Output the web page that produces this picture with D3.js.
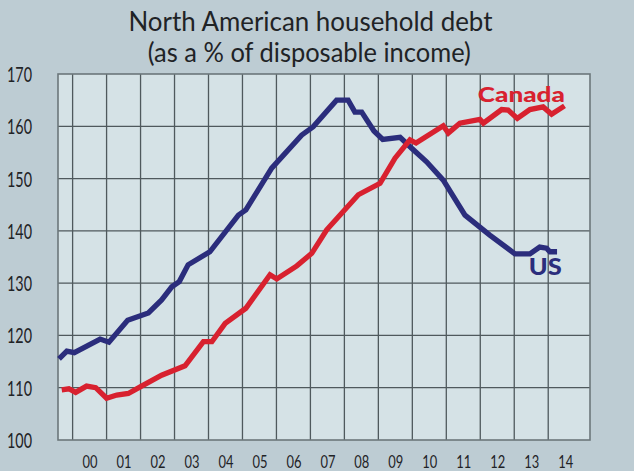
<!DOCTYPE html>
<html>
<head>
<meta charset="utf-8">
<script src="https://cdn.jsdelivr.net/npm/d3@7"></script>
<style>
  html, body { margin: 0; padding: 0; background: #bdccd3; }
  svg { display: block; }
</style>
</head>
<body>
<svg id="chart" width="634" height="471"></svg>
<script>
// ---- data ----
const titleLines = ["North American household debt", "(as a % of disposable income)"];
const yTicks = [100, 110, 120, 130, 140, 150, 160, 170];
const xTickYears = [2000, 2001, 2002, 2003, 2004, 2005, 2006, 2007, 2008, 2009, 2010, 2011, 2012, 2013, 2014];
const xTickLabels = ["00", "01", "02", "03", "04", "05", "06", "07", "08", "09", "10", "11", "12", "13", "14"];

const usDates = [1999.60, 1999.83, 2000.05, 2000.81, 2001.07, 2001.62, 2002.23, 2002.62, 2002.92, 2003.14,
  2003.40, 2004.04, 2004.88, 2005.10, 2005.86, 2006.74, 2007.08, 2007.77, 2008.11, 2008.31,
  2008.51, 2008.87, 2009.13, 2009.64, 2009.98, 2010.42, 2010.91, 2011.55, 2012.28, 2013.02,
  2013.46, 2013.75, 2013.95, 2014.05, 2014.26];
const usValues = [115.5, 117.0, 116.7, 119.3, 118.7, 122.9, 124.3, 126.8, 129.3, 130.3,
  133.5, 136.0, 143.0, 144.0, 152.0, 158.3, 159.9, 165.0, 165.0, 162.7,
  162.7, 159.1, 157.5, 157.9, 155.8, 153.2, 149.7, 143.0, 139.2, 135.6,
  135.6, 136.9, 136.7, 136.0, 136.0];

const caDates = [1999.68, 1999.89, 2000.09, 2000.41, 2000.68, 2001.00, 2001.30, 2001.64, 2002.03, 2002.62,
  2003.31, 2003.85, 2004.10, 2004.49, 2005.10, 2005.81, 2006.01, 2006.60, 2007.04, 2007.48,
  2008.41, 2009.05, 2009.49, 2009.93, 2010.11, 2010.91, 2011.06, 2011.40, 2011.99, 2012.09,
  2012.63, 2012.82, 2013.09, 2013.46, 2013.85, 2014.10, 2014.48];
const caValues = [109.6, 109.8, 109.1, 110.3, 110.0, 108.0, 108.6, 108.9, 110.3, 112.4,
  114.2, 118.8, 118.8, 122.3, 125.2, 131.6, 130.8, 133.3, 135.7, 140.2,
  146.9, 149.1, 153.9, 157.4, 156.8, 160.1, 158.7, 160.6, 161.3, 160.6,
  163.2, 163.1, 161.5, 163.2, 163.7, 162.3, 163.9];

const seriesNames = ["Canada", "US"];

// ---- layout ----
const W = 634, H = 471;
const plot = { left: 58, right: 590, top: 74, bottom: 440 };
const colors = { us: "#2b2d7c", ca: "#d8212f", text: "#1f2326", plotBg: "#d5e2e6", grid: "#4f595d" };
const font = "Lato, 'Open Sans', 'DejaVu Sans', sans-serif";

const svg = d3.select("#chart");

const x = d3.scaleLinear().domain([1999.57, 2015.23]).range([plot.left, plot.right]);
const y = d3.scaleLinear().domain([100, 170]).range([plot.bottom, plot.top]);

// plot background
svg.append("rect")
  .attr("x", plot.left).attr("y", plot.top)
  .attr("width", plot.right - plot.left).attr("height", plot.bottom - plot.top)
  .attr("fill", colors.plotBg);

// grid
const gGrid = svg.append("g");
gGrid.selectAll("line.h").data(yTicks.filter(v => v > 100 && v < 170)).join("line")
  .attr("x1", plot.left).attr("x2", plot.right)
  .attr("y1", d => y(d)).attr("y2", d => y(d))
  .attr("stroke", colors.grid).attr("stroke-width", 1.3);
gGrid.selectAll("line.v").data(xTickYears).join("line")
  .attr("x1", d => x(d)).attr("x2", d => x(d))
  .attr("y1", plot.top).attr("y2", plot.bottom)
  .attr("stroke", colors.grid).attr("stroke-width", 1.3);

// border
svg.append("rect")
  .attr("x", plot.left).attr("y", plot.top)
  .attr("width", plot.right - plot.left).attr("height", plot.bottom - plot.top)
  .attr("fill", "none").attr("stroke", "#6c777b").attr("stroke-width", 1.6);

// y axis labels
const yAxis = d3.axisLeft(y).tickValues(yTicks).tickSize(0).tickPadding(26).tickFormat(d3.format("d"));
const gy = svg.append("g").attr("transform", `translate(${plot.left},0)`).call(yAxis);
gy.select(".domain").remove();
gy.selectAll("text")
  .attr("font-family", font).attr("font-size", 21).attr("fill", colors.text)
  .attr("textLength", 25).attr("lengthAdjust", "spacingAndGlyphs")
  .attr("dy", "0.36em");

// x axis labels (centred within each year)
const xAxis = d3.axisBottom(x).tickValues(xTickYears.map(d => d + 0.5)).tickSize(0)
  .tickFormat((d, i) => xTickLabels[i]);
const gx = svg.append("g").attr("transform", `translate(0,${plot.bottom})`).call(xAxis);
gx.select(".domain").remove();
gx.selectAll("text")
  .attr("font-family", font).attr("font-size", 17).attr("fill", colors.text)
  .attr("y", 28).attr("dy", 0)
  .attr("textLength", 15).attr("lengthAdjust", "spacingAndGlyphs");

// lines
const line = d3.line().x(d => x(d[0])).y(d => y(d[1]));
const usData = usDates.map((d, i) => [d, usValues[i]]);
const caData = caDates.map((d, i) => [d, caValues[i]]);

svg.append("path").datum(usData).attr("d", line)
  .attr("fill", "none").attr("stroke", colors.us).attr("stroke-width", 5.3)
  .attr("stroke-linejoin", "miter");
svg.append("path").datum(caData).attr("d", line)
  .attr("fill", "none").attr("stroke", colors.ca).attr("stroke-width", 5.3)
  .attr("stroke-linejoin", "miter");

// series labels
svg.append("text").text(seriesNames[0])
  .attr("x", x(2014.49)).attr("y", y(164.7)).attr("text-anchor", "end")
  .attr("font-family", font).attr("font-weight", 900).attr("font-size", 21)
  .attr("fill", colors.ca).attr("textLength", 87).attr("lengthAdjust", "spacingAndGlyphs");
svg.append("text").text(seriesNames[1])
  .attr("x", x(2014.40)).attr("y", y(131.5)).attr("text-anchor", "end")
  .attr("font-family", font).attr("font-weight", 900).attr("font-size", 22)
  .attr("fill", colors.us).attr("textLength", 33).attr("lengthAdjust", "spacingAndGlyphs");

// title
svg.append("text").text(titleLines[0])
  .attr("x", 310.5).attr("y", 31).attr("text-anchor", "middle")
  .attr("font-family", font).attr("font-size", 26).attr("fill", colors.text)
  .attr("textLength", 364).attr("lengthAdjust", "spacingAndGlyphs");
svg.append("text").text(titleLines[1])
  .attr("x", 309.3).attr("y", 62).attr("text-anchor", "middle")
  .attr("font-family", font).attr("font-size", 26).attr("fill", colors.text)
  .attr("textLength", 323).attr("lengthAdjust", "spacingAndGlyphs");
</script>
</body>
</html>
